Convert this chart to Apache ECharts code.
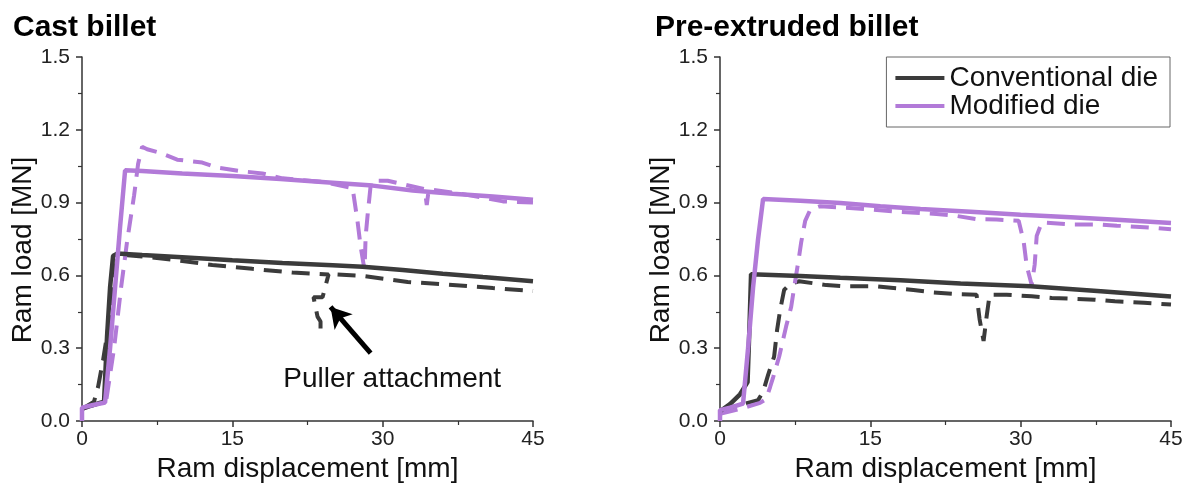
<!DOCTYPE html>
<html>
<head>
<meta charset="utf-8">
<script src="https://cdn.jsdelivr.net/npm/echarts@6/dist/echarts.min.js"></script>
<style>
  html, body { margin: 0; padding: 0; background: #fff; }
  #chart { width: 1192px; height: 494px; }
</style>
</head>
<body>
<div id="chart"></div>
<script>
// ticks
var xTicks = [0, 15, 30, 45]
var yTicks = [0, 0.3, 0.6, 0.9, 1.2, 1.5]

// Cast billet: [ram displacement mm, ram load MN]
var castConvSolid = [[0, 0.05], [1.0, 0.065], [2.2, 0.08], [2.5, 0.35], [2.8, 0.55], [3.1, 0.68], [3.5, 0.69],
  [6, 0.684], [10, 0.675], [15, 0.662], [20, 0.651], [25, 0.642], [28, 0.636], [32, 0.622], [36, 0.607], [40, 0.593], [45, 0.576]]
var castConvDash = [[0, 0.05], [1.2, 0.08], [1.6, 0.14], [2.1, 0.25], [2.6, 0.38], [3.0, 0.55], [3.5, 0.67], [4, 0.685],
  [6, 0.678], [9, 0.665], [13, 0.643], [17, 0.627], [21, 0.612], [24.6, 0.604], [24.0, 0.51], [23.1, 0.51], [23.5, 0.43],
  [23.8, 0.41], [23.8, 0.345], null, [25.5, 0.604], [28, 0.598], [32.5, 0.573], [36.5, 0.562], [41, 0.548], [45, 0.536]]
var castModSolid = [[0, 0], [0, 0.055], [1, 0.065], [2.3, 0.076], [2.8, 0.3], [3.3, 0.55], [3.8, 0.8], [4.3, 1.033],
  [6, 1.03], [10, 1.02], [15, 1.01], [19.8, 0.997], [25, 0.982], [29, 0.97], [33, 0.95], [37, 0.936], [41, 0.925], [45, 0.912]]
var castModDash = [[0, 0.05], [2.4, 0.08], [3.2, 0.3], [3.9, 0.55], [4.5, 0.74], [5.2, 0.93], [5.6, 1.06], [6.0, 1.13],
  [6.5, 1.12], [7.8, 1.105], [9.5, 1.077], [12, 1.065], [13.5, 1.044], [15.8, 1.03], [18, 1.02], [20, 1.0], [24, 0.985],
  [27.0, 0.96], [27.5, 0.82], [27.8, 0.72], [28.1, 0.645], [28.2, 0.63], [28.3, 0.76], [28.5, 0.85], [28.8, 0.97],
  [29.3, 0.99], [30.5, 0.99], [34.2, 0.955], [34.4, 0.89], [34.6, 0.955], [38, 0.935], [42, 0.905], [45, 0.9]]

// Pre-extruded billet
var preConvSolid = [[0, 0.04], [1, 0.07], [2, 0.11], [2.75, 0.16], [2.95, 0.4], [3.1, 0.605],
  [8, 0.598], [12, 0.59], [18, 0.58], [24, 0.567], [31, 0.555], [38, 0.535], [45, 0.513]]
var preConvDash = [[0, 0.03], [1.3, 0.058], [3.8, 0.086], [4.3, 0.12], [4.8, 0.19], [5.4, 0.265], [5.7, 0.376],
  [6.0, 0.457], [6.4, 0.54], [7.0, 0.565], [7.9, 0.576], [10.6, 0.56], [12.3, 0.555], [15.6, 0.555], [19.3, 0.54],
  [21.3, 0.53], [24, 0.522], [25.6, 0.52], [25.9, 0.42], [26.3, 0.33], [26.6, 0.43], [26.9, 0.52], [28.6, 0.52],
  [31.1, 0.514], [33.1, 0.507], [37.4, 0.5], [39.4, 0.493], [42.3, 0.487], [45, 0.48]]
var preModSolid = [[0, 0], [0, 0.045], [1, 0.055], [2.3, 0.072], [2.8, 0.3], [3.3, 0.55], [3.8, 0.75], [4.3, 0.915],
  [8, 0.908], [12, 0.898], [16, 0.885], [20, 0.874], [25, 0.862], [30, 0.85], [35, 0.84], [40, 0.828], [45, 0.816]]
var preModDash = [[0, 0.03], [2, 0.05], [4, 0.075], [4.6, 0.09], [5.0, 0.14], [5.3, 0.18], [5.9, 0.265], [6.6, 0.39],
  [7.1, 0.47], [7.4, 0.55], [7.9, 0.68], [8.1, 0.736], [8.5, 0.825], [9, 0.87], [10, 0.885], [14, 0.875], [18, 0.862],
  [21.6, 0.853], [23.6, 0.845], [25.6, 0.832], [27.6, 0.83], [29.8, 0.825], [30.3, 0.74], [30.6, 0.64], [31.1, 0.56],
  [31.4, 0.645], [31.6, 0.763], [32.1, 0.818], [35, 0.81], [37.9, 0.81], [39.6, 0.805], [43, 0.797], [45, 0.79]]

// annotation (data coords)
var arrowFrom = [28.8, 0.28]
var arrowTo = [24.8, 0.47]
var noteAt = [30.95, 0.172]

var FONT = '"Liberation Sans", Arial, sans-serif'
var DARK = '#3b3b3b'
var PURPLE = '#b27ad8'

function xAxisFor(idx) {
  return {
    gridIndex: idx, type: 'value',
    min: xTicks[0], max: xTicks[xTicks.length - 1], interval: xTicks[1] - xTicks[0],
    name: 'Ram displacement [mm]', nameLocation: 'middle', nameGap: 33,
    nameTextStyle: { fontSize: 28, color: '#111', fontFamily: FONT },
    axisLine: { show: true, onZero: false, lineStyle: { color: '#333', width: 1.5 } },
    axisTick: { show: true, length: 6, lineStyle: { color: '#333', width: 1.5 } },
    minorTick: { show: true, splitNumber: 2, length: 4, lineStyle: { color: '#333', width: 1.2 } },
    axisLabel: { fontSize: 21, color: '#222', fontFamily: FONT, margin: 8 },
    splitLine: { show: false }
  }
}

function yAxisFor(idx) {
  return {
    gridIndex: idx, type: 'value',
    min: yTicks[0], max: yTicks[yTicks.length - 1], interval: yTicks[1] - yTicks[0],
    name: 'Ram load [MN]', nameLocation: 'middle', nameGap: 45,
    nameTextStyle: { fontSize: 28, color: '#111', fontFamily: FONT, padding: [0, 22, 0, 0] },
    axisLine: { show: true, onZero: false, lineStyle: { color: '#333', width: 1.5 } },
    axisTick: { show: true, length: 6, lineStyle: { color: '#333', width: 1.5 } },
    minorTick: { show: true, splitNumber: 2, length: 4, lineStyle: { color: '#333', width: 1.2 } },
    axisLabel: { fontSize: 21, color: '#222', fontFamily: FONT, margin: 12,
      formatter: function (v) { return v.toFixed(1) } },
    splitLine: { show: false }
  }
}

function line(name, idx, data, color, dashed) {
  return {
    name: name, type: 'line', xAxisIndex: idx, yAxisIndex: idx,
    data: data, showSymbol: false, symbol: 'none', connectNulls: false,
    itemStyle: { color: color },
    lineStyle: { color: color, width: dashed ? 4 : 4.5, type: dashed ? [18, 10] : 'solid' },
    z: dashed ? 2 : 3
  }
}

var chart = echarts.init(document.getElementById('chart'))

var castConvLine = line('Conventional die', 0, castConvSolid, DARK, false)
castConvLine.markLine = {
  silent: true, symbol: ['none', 'arrow'], symbolSize: [18, 20],
  lineStyle: { color: '#000', width: 5, type: 'solid' },
  label: { show: false },
  data: [[{ coord: arrowFrom }, { coord: arrowTo }]]
}
castConvLine.markPoint = {
  silent: true, symbol: 'circle', symbolSize: 1,
  itemStyle: { color: 'rgba(0,0,0,0)' },
  label: { show: true, position: 'inside', formatter: 'Puller attachment',
    fontSize: 28, color: '#111', fontFamily: FONT },
  data: [{ coord: noteAt }]
}

chart.setOption({
  animation: false,
  backgroundColor: '#fff',
  textStyle: { fontFamily: FONT },
  title: [
    { text: 'Cast billet', left: 8, top: 8, textStyle: { fontSize: 30, fontWeight: 'bold', color: '#000', fontFamily: FONT } },
    { text: 'Pre-extruded billet', left: 650, top: 8, textStyle: { fontSize: 30, fontWeight: 'bold', color: '#000', fontFamily: FONT } }
  ],
  grid: [
    { left: 82, right: 659, top: 57, bottom: 73 },
    { left: 720, right: 21, top: 57, bottom: 73 }
  ],
  legend: {
    data: ['Conventional die', 'Modified die'],
    orient: 'vertical', right: 22, top: 57,
    icon: 'rect', itemWidth: 49, itemHeight: 4, itemGap: 0, itemTextGap: 13,
    padding: [7, 12, 7, 9],
    borderColor: '#666', borderWidth: 1,
    textStyle: { fontSize: 28, color: '#111', fontFamily: FONT }
  },
  xAxis: [xAxisFor(0), xAxisFor(1)],
  yAxis: [yAxisFor(0), yAxisFor(1)],
  series: [
    line('Conventional die, repeat', 0, castConvDash, DARK, true),
    line('Modified die, repeat', 0, castModDash, PURPLE, true),
    castConvLine,
    line('Modified die', 0, castModSolid, PURPLE, false),
    line('Conventional die, repeat', 1, preConvDash, DARK, true),
    line('Modified die, repeat', 1, preModDash, PURPLE, true),
    line('Conventional die', 1, preConvSolid, DARK, false),
    line('Modified die', 1, preModSolid, PURPLE, false)
  ]
})
</script>
</body>
</html>
